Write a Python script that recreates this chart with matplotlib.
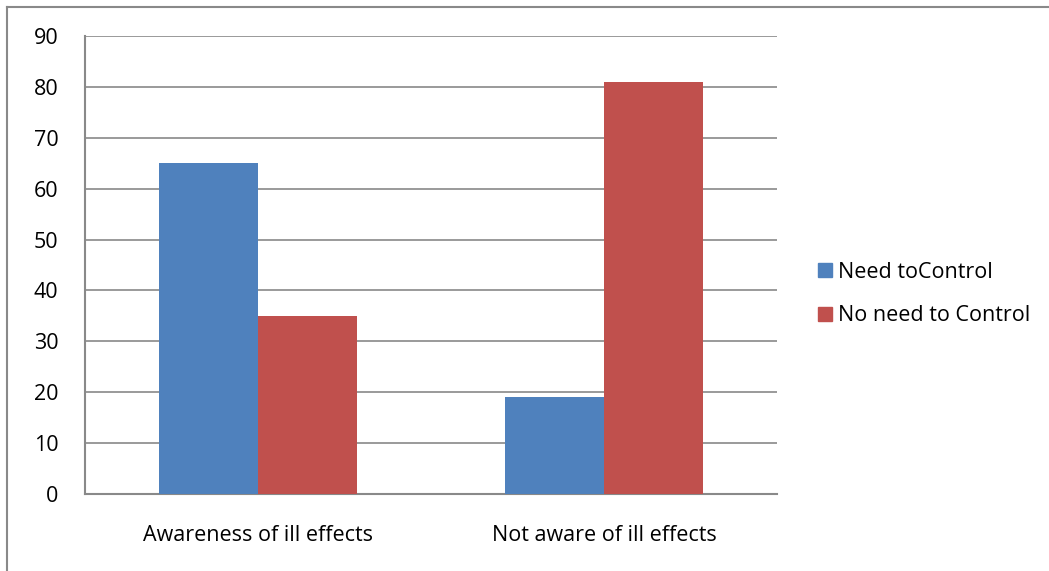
import numpy as np
import matplotlib
matplotlib.use("Agg")
import matplotlib.pyplot as plt
from matplotlib.lines import Line2D
from matplotlib.patches import Patch

# data
categories = ["Awareness of ill effects", "Not aware of ill effects"]
need_control = [65, 19]
no_need_control = [35, 81]
series_names = ["Need toControl", "No need to Control"]
yticks = list(range(0, 100, 10))

BLUE = "#4F81BD"
RED = "#C0504D"
GRID = "#898989"
FS = 15.5

plt.rcParams["font.family"] = ["Open Sans", "DejaVu Sans"]

fig = plt.figure(figsize=(10.49, 5.71), dpi=100)
ax = fig.add_axes([85 / 1049, 77 / 571, 692 / 1049, 458 / 571])

x = np.arange(len(categories))
w = 0.286
ax.bar(x - w / 2, need_control, width=w, color=BLUE, edgecolor="none", zorder=3)
ax.bar(x + w / 2, no_need_control, width=w, color=RED, edgecolor="none", zorder=3)

ax.set_xlim(-0.5, 1.5)
ax.set_ylim(0, 90)
ax.set_yticks(yticks)
ax.set_xticks(x)
ax.set_xticklabels(categories, fontsize=FS)
ax.tick_params(axis="y", labelsize=FS, length=0, pad=19)
ax.tick_params(axis="x", length=0, pad=22)
ax.yaxis.grid(True, color=GRID, lw=1.2, zorder=0)

for side in ("top", "right"):
    ax.spines[side].set_visible(False)
for side in ("left", "bottom"):
    ax.spines[side].set_color(GRID)
    ax.spines[side].set_linewidth(1.5)

handles = [Patch(color=BLUE), Patch(color=RED)]
fig.legend(handles, series_names, loc="center left",
           bbox_to_anchor=(818 / 1049, 1 - 294 / 571), frameon=False,
           fontsize=FS, handlelength=0.65, handleheight=0.65,
           handletextpad=0.3, labelspacing=1.05, borderaxespad=0,
           borderpad=0)

# outer chart border (top and left edges visible)
fig.add_artist(Line2D([7 / 1049, 7 / 1049], [0, 1 - 7 / 571],
                      transform=fig.transFigure, color=GRID, lw=1.5))
fig.add_artist(Line2D([7 / 1049, 1], [1 - 7 / 571, 1 - 7 / 571],
                      transform=fig.transFigure, color=GRID, lw=1.5))

fig.savefig("out.png", dpi=100)
